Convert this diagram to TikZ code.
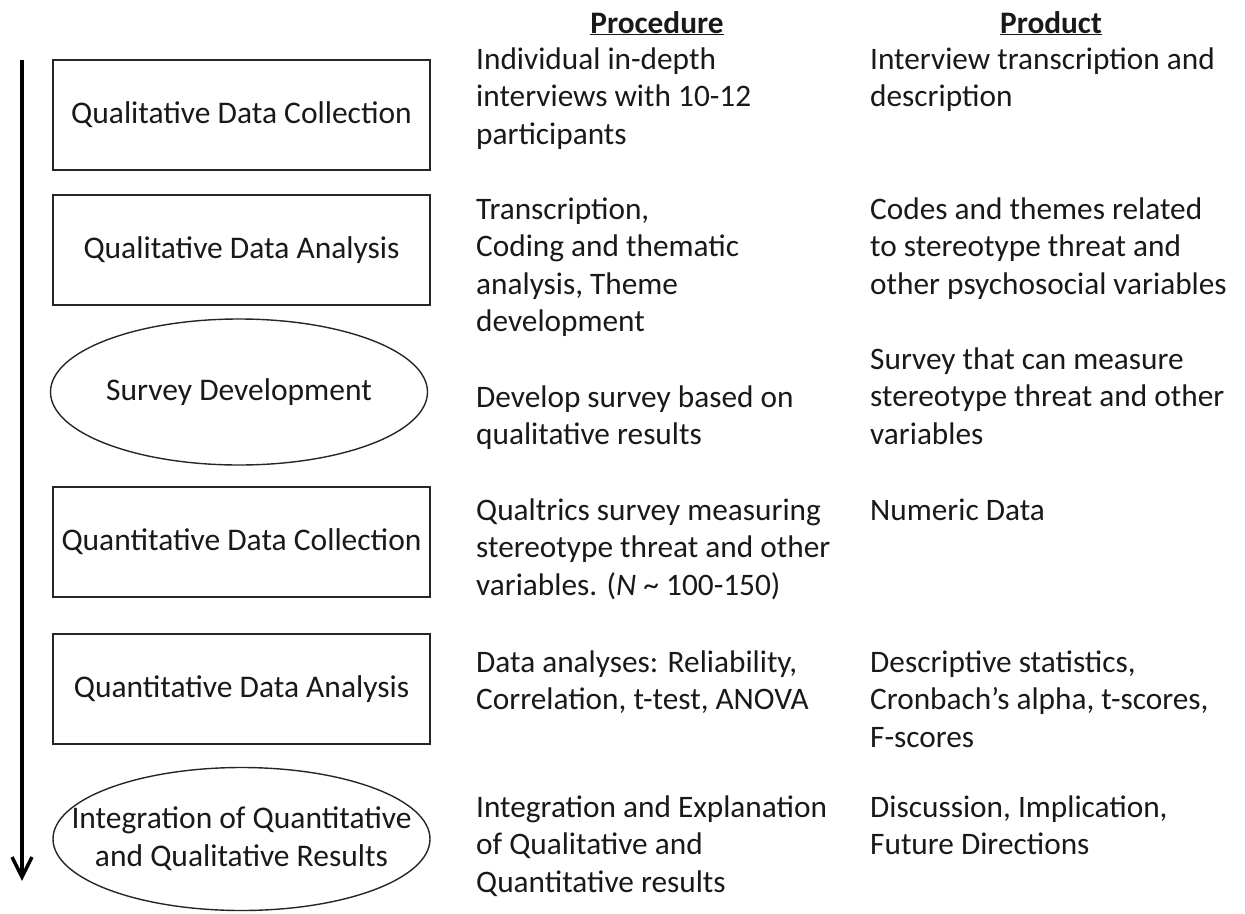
\documentclass[tikz,border=0pt]{standalone}
\usepackage{fontspec}
\setmainfont{Carlito}
\usetikzlibrary{shapes.geometric,arrows.meta}
\tikzset{
  stage/.style={draw=black!85, line width=1.6pt, minimum width=377pt, minimum height=110pt, inner sep=0pt, align=center, text=black!90, font=\fontsize{31.5}{38}\selectfont},
  stageoval/.style={ellipse, draw=black!85, line width=1.4pt, minimum width=377pt, minimum height=146pt, inner ysep=0pt, inner xsep=-40pt, align=center, text=black!90, font=\fontsize{31.5}{38}\selectfont},
  txt/.style={anchor=north west, inner sep=0pt, align=left, text=black!90, font=\fontsize{31.3}{37.5}\selectfont},
  head/.style={anchor=base, inner sep=0pt, text=black!90, font=\fontsize{31.3}{37.5}\selectfont\bfseries},
  timeline/.style={line width=3.5pt},
  tiphead/.style={line width=3.5pt, line join=miter, line cap=butt}
}
\begin{document}
\begin{tikzpicture}[x=1pt,y=-1pt]
\useasboundingbox (0,0) rectangle (1245,913);
% headers
\node[head] (hproc) at (657,33) {\underline{Procedure}};
\node[head] (hprod) at (1051,33) {\underline{Product}};
% stages
\node[stage] (s1) at (241.5,115) {Qualitative Data Collection};
\node[stage] (s2) at (241.5,250) {Qualitative Data Analysis};
\node[stageoval] (s3) at (239,392) {Survey Development};
\node[stage] (s4) at (241.5,542) {Quantitative Data Collection};
\node[stage] (s5) at (241.5,689) {Quantitative Data Analysis};
\node[stageoval, minimum height=143pt] (s6) at (241.5,839) {Integration of Quantitative\\and Qualitative Results};
% timeline arrow
\coordinate (t0) at (22,60);
\coordinate (t1) at (22,877);
\coordinate (hl) at (12,857);
\coordinate (hr) at (32,857);
\draw[timeline] (t0) -- (t1);
\draw[tiphead] (hl) -- (t1) -- (hr);
% procedure column
\node[txt] (p1) at (476,42.75) {\strut Individual in-depth\\interviews with 10-12\\participants};
\node[txt] (p2) at (476,193) {\strut Transcription,\\Coding and thematic\\analysis, Theme\\development};
\node[txt] (p3) at (476,381) {\strut Develop survey based on\\qualitative results};
\node[txt] (p4) at (476,493.75) {\strut Qualtrics survey measuring\\stereotype threat and other\\variables. (\textit{N} \textasciitilde{} 100-150)};
\node[txt] (p5) at (476,645.75) {\strut Data analyses: Reliability,\\Correlation, t-test, ANOVA};
\node[txt] (p6) at (476,790.75) {\strut Integration and Explanation\\of Qualitative and\\Quantitative results};
% product column
\node[txt] (r1) at (870,42.75) {\strut Interview transcription and\\description};
\node[txt] (r2) at (870,193) {\strut Codes and themes related\\to stereotype threat and\\other psychosocial variables};
\node[txt] (r3) at (870,343) {\strut Survey that can measure\\stereotype threat and other\\variables};
\node[txt] (r4) at (870,493.75) {\strut Numeric Data};
\node[txt] (r5) at (870,645.75) {\strut Descriptive statistics,\\Cronbach’s alpha, t-scores,\\F-scores};
\node[txt] (r6) at (870,790.75) {\strut Discussion, Implication,\\Future Directions};
\end{tikzpicture}
\end{document}
